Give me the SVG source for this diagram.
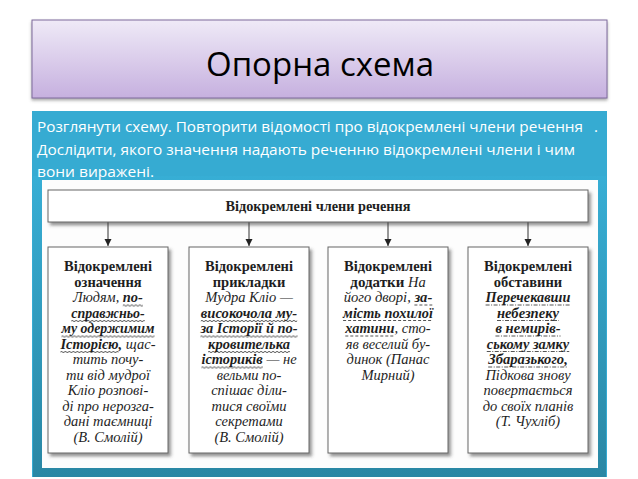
<svg xmlns="http://www.w3.org/2000/svg" width="638" height="479" viewBox="0 0 638 479">
<defs>
<linearGradient id="tg" x1="0" y1="0" x2="0" y2="1"><stop offset="0" stop-color="#EFEAF7"/><stop offset="1" stop-color="#C6B0DF"/></linearGradient>
<linearGradient id="fg" x1="0" y1="0" x2="0" y2="1"><stop offset="0" stop-color="#37AED5"/><stop offset="1" stop-color="#2A87A4"/></linearGradient>
<filter id="sh" x="-10%" y="-10%" width="130%" height="130%"><feDropShadow dx="2.5" dy="3" stdDeviation="1.8" flood-color="#444" flood-opacity="0.55"/></filter>
<filter id="tsh" x="-5%" y="-10%" width="110%" height="130%"><feDropShadow dx="0" dy="2" stdDeviation="1.5" flood-color="#555" flood-opacity="0.5"/></filter>
<pattern id="wave" width="4" height="4" patternUnits="userSpaceOnUse"><path d="M0 2 Q1 0.6 2 2 T4 2" fill="none" stroke="#2a2a2a" stroke-width="0.8"/></pattern>
<marker id="ah" markerWidth="8" markerHeight="8" refX="7" refY="4" orient="auto" markerUnits="userSpaceOnUse"><path d="M0,0.5 L7,4 L0,7.5z" fill="#222"/></marker>
<style>
.ttl{font-family:"Open Sans","Noto Sans",sans-serif;font-size:32px;fill:#000}
.body{font-family:"Open Sans","Noto Sans",sans-serif;font-size:15px;fill:#fff}
.s{font-family:"Liberation Serif","DejaVu Serif",serif;font-size:14.5px;fill:#1e1e1e}
.hd{font-weight:bold}
.it{font-style:italic}
.bi{font-style:italic;font-weight:bold}
.m{text-anchor:middle}
.box{fill:#fff;stroke:#666;stroke-width:1;filter:url(#sh)}
.dash{stroke:#2a2a2a;stroke-width:0.8;stroke-dasharray:3 2}
.dd{stroke:#2a2a2a;stroke-width:0.8;stroke-dasharray:4 1.5 1 1.5}
.edge{stroke:#333;stroke-width:1;marker-end:url(#ah)}
</style>
</defs>
<rect width="638" height="479" fill="#fff"/>
<g id="title">
<rect x="32" y="20" width="575" height="78" fill="url(#tg)" stroke="#7E6A9C" stroke-width="1" filter="url(#tsh)"/>
<text class="ttl" x="206" y="76" textLength="228" lengthAdjust="spacingAndGlyphs">Опорна схема</text>
</g>
<g id="panel">
<rect x="32" y="111" width="575" height="366" fill="#36ABD2"/>
<rect x="33" y="176" width="573" height="301" fill="url(#fg)"/>
<rect x="42" y="180" width="556" height="288" fill="#fdfdfd"/>
<text class="body" x="37" y="132" textLength="546" lengthAdjust="spacingAndGlyphs">Розглянути схему. Повторити відомості про відокремлені члени речення</text>
<text class="body" x="594" y="132">.</text>
<text class="body" x="37" y="155" textLength="538" lengthAdjust="spacingAndGlyphs">Дослідити, якого значення надають реченню відокремлені члени і чим</text>
<text class="body" x="37" y="177" textLength="117" lengthAdjust="spacingAndGlyphs">вони виражені.</text>
</g>
<g id="edges">
<line class="edge" x1="108" y1="222" x2="108" y2="246"/>
<line class="edge" x1="249" y1="222" x2="249" y2="246"/>
<line class="edge" x1="388" y1="222" x2="388" y2="246"/>
<line class="edge" x1="528" y1="222" x2="528" y2="246"/>
</g>
<g id="n0">
<rect class="box" x="48" y="190" width="540" height="32"/>
<text class="s hd" x="225.5" y="211" font-size="14" textLength="185" lengthAdjust="spacingAndGlyphs">Відокремлені члени речення</text>
</g>
<g id="n1">
<rect class="box" x="48" y="247" width="120" height="206"/>
<text class="s hd m" x="108" y="271">Відокремлені</text>
<text class="s hd m" x="108" y="286.5">означення</text>
<text class="s it" x="73.1" y="302" textLength="46.1" lengthAdjust="spacingAndGlyphs">Людям,</text>
<text class="s bi" x="122.8" y="302" textLength="20.1" lengthAdjust="spacingAndGlyphs">по-</text>
<rect transform="translate(122.8,303.5)" width="20.1" height="4" fill="url(#wave)"/>
<text class="s bi" x="71.25" y="317.5" textLength="73.5" lengthAdjust="spacingAndGlyphs">справжньо-</text>
<rect transform="translate(71.25,319)" width="73.5" height="4" fill="url(#wave)"/>
<text class="s bi" x="61.45" y="333" textLength="93.1" lengthAdjust="spacingAndGlyphs">му одержимим</text>
<rect transform="translate(61.45,334.5)" width="93.1" height="4" fill="url(#wave)"/>
<text class="s bi" x="60.4" y="348.5" textLength="61.7" lengthAdjust="spacingAndGlyphs">Історією,</text>
<rect transform="translate(60.4,350)" width="58" height="4" fill="url(#wave)"/>
<text class="s it" x="125.7" y="348.5" textLength="29.8" lengthAdjust="spacingAndGlyphs">щас-</text>
<text class="s it m" x="108" y="364">тить почу-</text>
<text class="s it m" x="108" y="379.5">ти від мудрої</text>
<text class="s it m" x="108" y="395">Кліо розпові-</text>
<text class="s it m" x="108" y="410.5">ді про нерозга-</text>
<text class="s it m" x="108" y="426">дані таємниці</text>
<text class="s it m" x="108" y="441.5">(В. Смолій)</text>
</g>
<g id="n2">
<rect class="box" x="189" y="247" width="120" height="206"/>
<text class="s hd m" x="249" y="271">Відокремлені</text>
<text class="s hd m" x="249" y="286.5">прикладки</text>
<text class="s it m" x="249" y="302">Мудра Кліо —</text>
<text class="s bi" x="200.85" y="317.5" textLength="96.3" lengthAdjust="spacingAndGlyphs">високочола му-</text>
<rect transform="translate(200.85,319)" width="96.3" height="4" fill="url(#wave)"/>
<text class="s bi" x="200.4" y="333" textLength="97.2" lengthAdjust="spacingAndGlyphs">за Історії й по-</text>
<rect transform="translate(200.4,334.5)" width="97.2" height="4" fill="url(#wave)"/>
<text class="s bi" x="208.1" y="348.5" textLength="81.8" lengthAdjust="spacingAndGlyphs">кровителька</text>
<rect transform="translate(208.1,350)" width="81.8" height="4" fill="url(#wave)"/>
<text class="s bi" x="201.4" y="364" textLength="61.4" lengthAdjust="spacingAndGlyphs">істориків</text>
<rect transform="translate(201.4,365.5)" width="61.4" height="4" fill="url(#wave)"/>
<text class="s it" x="266.4" y="364" textLength="30.2" lengthAdjust="spacingAndGlyphs">— не</text>
<text class="s it m" x="249" y="379.5">вельми по-</text>
<text class="s it m" x="249" y="395">спішає діли-</text>
<text class="s it m" x="249" y="410.5">тися своїми</text>
<text class="s it m" x="249" y="426">секретами</text>
<text class="s it m" x="249" y="441.5">(В. Смолій)</text>
</g>
<g id="n3">
<rect class="box" x="328" y="247" width="120" height="206"/>
<text class="s hd m" x="388" y="271">Відокремлені</text>
<text class="s hd" x="350.35" y="286.5" textLength="54" lengthAdjust="spacingAndGlyphs">додатки</text>
<text class="s it" x="407.95" y="286.5" textLength="17.7" lengthAdjust="spacingAndGlyphs">На</text>
<text class="s it" x="343.7" y="302" textLength="67.1" lengthAdjust="spacingAndGlyphs">його дворі,</text>
<text class="s bi" x="414.4" y="302" textLength="17.9" lengthAdjust="spacingAndGlyphs">за-</text>
<line class="dash" x1="414.4" y1="305" x2="432.3" y2="305"/>
<text class="s bi" x="343.1" y="317.5" textLength="89.8" lengthAdjust="spacingAndGlyphs">мість похилої</text>
<line class="dash" x1="343.1" y1="320.5" x2="432.9" y2="320.5"/>
<text class="s bi" x="345.3" y="333" textLength="49.2" lengthAdjust="spacingAndGlyphs">хатини</text>
<line class="dash" x1="345.3" y1="336" x2="394.5" y2="336"/>
<text class="s it" x="394.5" y="333" textLength="36.2" lengthAdjust="spacingAndGlyphs">, сто-</text>
<text class="s it m" x="388" y="348.5">яв веселий бу-</text>
<text class="s it m" x="388" y="364">динок (Панас</text>
<text class="s it m" x="388" y="379.5">Мирний)</text>
</g>
<g id="n4">
<rect class="box" x="468" y="247" width="120" height="206"/>
<text class="s hd m" x="528" y="271">Відокремлені</text>
<text class="s hd m" x="528" y="286.5">обставини</text>
<text class="s bi" x="485.6" y="302" textLength="84.8" lengthAdjust="spacingAndGlyphs">Перечекавши</text>
<line class="dd" x1="485.6" y1="305" x2="570.4" y2="305"/>
<text class="s bi" x="497" y="317.5" textLength="62" lengthAdjust="spacingAndGlyphs">небезпеку</text>
<line class="dd" x1="497" y1="320.5" x2="559" y2="320.5"/>
<text class="s bi" x="495.45" y="333" textLength="65.1" lengthAdjust="spacingAndGlyphs">в немирів-</text>
<line class="dd" x1="495.45" y1="336" x2="560.55" y2="336"/>
<text class="s bi" x="486.75" y="348.5" textLength="82.5" lengthAdjust="spacingAndGlyphs">ському замку</text>
<line class="dd" x1="486.75" y1="351.5" x2="569.25" y2="351.5"/>
<text class="s bi" x="488.2" y="364" textLength="79.6" lengthAdjust="spacingAndGlyphs">Збаразького,</text>
<line class="dd" x1="488.2" y1="367" x2="567.8" y2="367"/>
<text class="s it m" x="528" y="379.5">Підкова знову</text>
<text class="s it m" x="528" y="395">повертається</text>
<text class="s it m" x="528" y="410.5">до своїх планів</text>
<text class="s it m" x="528" y="426">(Т. Чухліб)</text>
</g>
</svg>
